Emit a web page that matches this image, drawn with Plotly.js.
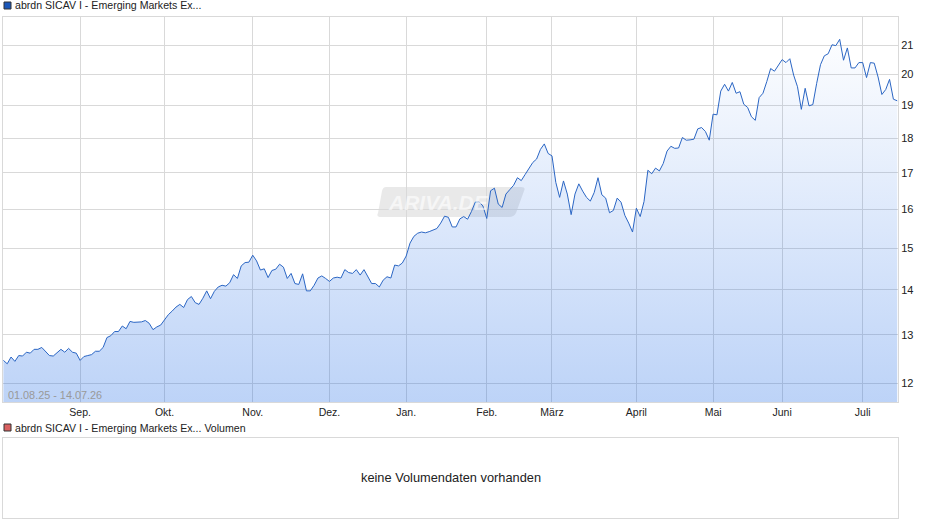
<!DOCTYPE html>
<html>
<head>
<meta charset="utf-8">
<title>abrdn SICAV I - Emerging Markets Ex...</title>
<script src="https://cdn.plot.ly/plotly-3.0.1.min.js"></script>
<style>
html, body { margin: 0; padding: 0; background: #fff; }
#chart { width: 940px; height: 526px; }
</style>
</head>
<body>
<div id="chart"></div>
<script>
// daily closes
var prices = [
    12.46, 12.39, 12.53, 12.44, 12.56, 12.55, 12.63, 12.61, 12.69, 12.69,
    12.73, 12.65, 12.56, 12.55, 12.61, 12.69, 12.63, 12.71, 12.63, 12.61,
    12.46, 12.54, 12.56, 12.58, 12.65, 12.65, 12.73, 12.94, 12.98, 13.07,
    13.07, 13.19, 13.13, 13.29, 13.27, 13.27, 13.28, 13.31, 13.25, 13.11,
    13.17, 13.21, 13.33, 13.44, 13.52, 13.61, 13.67, 13.60, 13.78, 13.85,
    13.71, 13.67, 13.81, 13.98, 13.80, 13.97, 14.07, 14.11, 14.09, 14.17,
    14.36, 14.27, 14.57, 14.65, 14.66, 14.83, 14.69, 14.47, 14.50, 14.29,
    14.46, 14.49, 14.61, 14.54, 14.27, 14.39, 14.15, 14.13, 14.38, 13.98,
    13.98, 14.11, 14.28, 14.33, 14.27, 14.20, 14.28, 14.30, 14.28, 14.48,
    14.41, 14.39, 14.48, 14.35, 14.48, 14.33, 14.15, 14.15, 14.07, 14.23,
    14.31, 14.28, 14.59, 14.57, 14.64, 14.81, 15.13, 15.30, 15.38, 15.41,
    15.39, 15.42, 15.47, 15.50, 15.64, 15.82, 15.79, 15.54, 15.54, 15.75,
    15.81, 15.74, 15.94, 16.19, 16.20, 16.09, 15.76, 16.50, 16.57, 16.14,
    16.05, 16.41, 16.53, 16.65, 16.86, 16.78, 16.95, 17.13, 17.29, 17.39,
    17.67, 17.83, 17.55, 17.48, 16.73, 16.32, 16.77, 16.41, 15.86, 16.41,
    16.69, 16.49, 16.32, 16.22, 16.45, 16.86, 16.39, 16.30, 15.91, 15.97,
    16.30, 16.19, 15.84, 15.64, 15.41, 16.03, 15.81, 16.21, 17.07, 16.97,
    17.13, 17.05, 17.26, 17.62, 17.76, 17.70, 17.71, 18.02, 17.94, 17.95,
    17.97, 18.28, 18.32, 18.20, 17.94, 18.73, 18.71, 19.46, 19.68, 19.46,
    19.74, 19.39, 19.44, 19.04, 18.94, 18.65, 18.54, 19.25, 19.39, 19.77,
    20.20, 20.11, 20.31, 20.50, 20.40, 20.53, 19.98, 19.60, 18.88, 19.55,
    18.99, 19.03, 19.71, 20.33, 20.63, 20.70, 21.01, 20.98, 21.20, 20.48,
    20.90, 20.22, 20.22, 20.40, 20.40, 19.90, 20.40, 20.38, 19.92, 19.35,
    19.51, 19.84, 19.20, 19.15
];
var monthLabels = ['Sep.', 'Okt.', 'Nov.', 'Dez.', 'Jan.', 'Feb.', 'März', 'April', 'Mai', 'Juni', 'Juli'];
var monthStarts = [20, 42, 65, 85, 105, 126, 143, 165, 185, 203, 224];
var priceTicks = [12, 13, 14, 15, 16, 17, 18, 19, 20, 21, 22];
var priceLabels = ['12', '13', '14', '15', '16', '17', '18', '19', '20', '21', ''];

var fontName = '"Liberation Sans", Arial, sans-serif';
var gridColor = '#d9d9d9';

var sessions = prices.map(function(p, i) { return i; });

// page pixels to paper coordinates, for the watermark and the small legend
var px = function(x) { return (x - 3) / 895; };
var py = function(y) { return (518 - y) / 501; };

var label = function(x, y, text, size, color, anchor, italic) {
    return {
        xref: 'paper', yref: 'paper', x: px(x), y: py(y),
        text: text, showarrow: false, xanchor: anchor || 'left', yanchor: 'middle',
        font: {family: fontName, size: size, color: color, style: italic ? 'italic' : 'normal'},
        borderpad: 0
    };
};

var square = function(x, y, fill) {
    return {
        type: 'rect', xref: 'paper', yref: 'paper',
        x0: px(x), x1: px(x + 7), y0: py(y + 7), y1: py(y),
        fillcolor: fill, line: {color: '#333333', width: 1}
    };
};

var watermark = [
    'M', px(386), py(187), 'L', px(521), py(187), 'Q', px(526), py(187), px(524), py(191),
    'L', px(516), py(213), 'Q', px(514), py(217), px(509), py(217),
    'L', px(381), py(217), 'Q', px(376), py(217), px(378), py(213),
    'L', px(382), py(191), 'Q', px(383), py(187), px(386), py(187), 'Z'
].join(' ');

var data = [{
    x: sessions,
    y: prices,
    type: 'scatter',
    mode: 'lines',
    xaxis: 'x',
    yaxis: 'y',
    line: {color: '#2b66c4', width: 1},
    fill: 'tozeroy',
    fillgradient: {
        type: 'vertical',
        start: 11.63,
        stop: 21.2,
        colorscale: [[0, 'rgba(18,98,228,0.28)'], [1, 'rgba(18,98,228,0.01)']]
    },
    hoverinfo: 'skip'
}, {
    // empty volume panel, no data for this fund
    x: [],
    y: [],
    type: 'scatter',
    mode: 'lines',
    xaxis: 'x2',
    yaxis: 'y2',
    hoverinfo: 'skip'
}];

var layout = {
    width: 940,
    height: 526,
    margin: {l: 3, r: 42, t: 17, b: 8, pad: 0},
    paper_bgcolor: '#ffffff',
    plot_bgcolor: '#ffffff',
    showlegend: false,
    font: {family: fontName, size: 11, color: '#222222'},
    xaxis: {
        domain: [0, 1],
        range: [-0.1, 233.2],
        tickmode: 'array',
        tickvals: monthStarts,
        ticktext: monthLabels,
        tickfont: {family: fontName, size: 10.5, color: '#222222'},
        ticks: '',
        gridcolor: gridColor,
        gridwidth: 1,
        showline: true,
        linecolor: gridColor,
        mirror: true,
        zeroline: false,
        anchor: 'y'
    },
    yaxis: {
        domain: [116 / 501, 1],
        type: 'log',
        range: [1.0656, 1.3424],
        side: 'right',
        tickmode: 'array',
        tickvals: priceTicks,
        ticktext: priceLabels,
        tickfont: {family: fontName, size: 11, color: '#222222'},
        ticks: '',
        gridcolor: gridColor,
        gridwidth: 1,
        showline: true,
        linecolor: gridColor,
        mirror: true,
        zeroline: false,
        anchor: 'x'
    },
    xaxis2: {
        domain: [0, 1],
        anchor: 'y2',
        range: [0, 1],
        showticklabels: false,
        showgrid: false,
        ticks: '',
        showline: true,
        linecolor: gridColor,
        mirror: true,
        zeroline: false
    },
    yaxis2: {
        domain: [0, 80 / 501],
        anchor: 'x2',
        range: [0, 1],
        showticklabels: false,
        showgrid: false,
        ticks: '',
        showline: true,
        linecolor: gridColor,
        mirror: true,
        zeroline: false
    },
    shapes: [
        {type: 'path', xref: 'paper', yref: 'paper', path: watermark, layer: 'below',
         fillcolor: 'rgba(200,200,200,0.4)', line: {width: 0}},
        square(4, 2, '#1a56b8'),
        square(4, 424, '#d96060')
    ],
    annotations: [
        label(14, 5.5, 'abrdn SICAV I - Emerging Markets Ex...', 10.6, '#222222'),
        label(14, 428, 'abrdn SICAV I - Emerging Markets Ex... Volumen', 10.6, '#222222'),
        label(7, 395, '01.08.25 - 14.07.26', 10.85, '#999999'),
        label(387, 202, '<b>ARIVA.DE</b>', 21, 'rgba(255,255,255,0.6)', 'left', true),
        label(451, 477, 'keine Volumendaten vorhanden', 12.8, '#222222', 'center')
    ]
};

Plotly.newPlot('chart', data, layout, {displayModeBar: false, staticPlot: true});
</script>
</body>
</html>
